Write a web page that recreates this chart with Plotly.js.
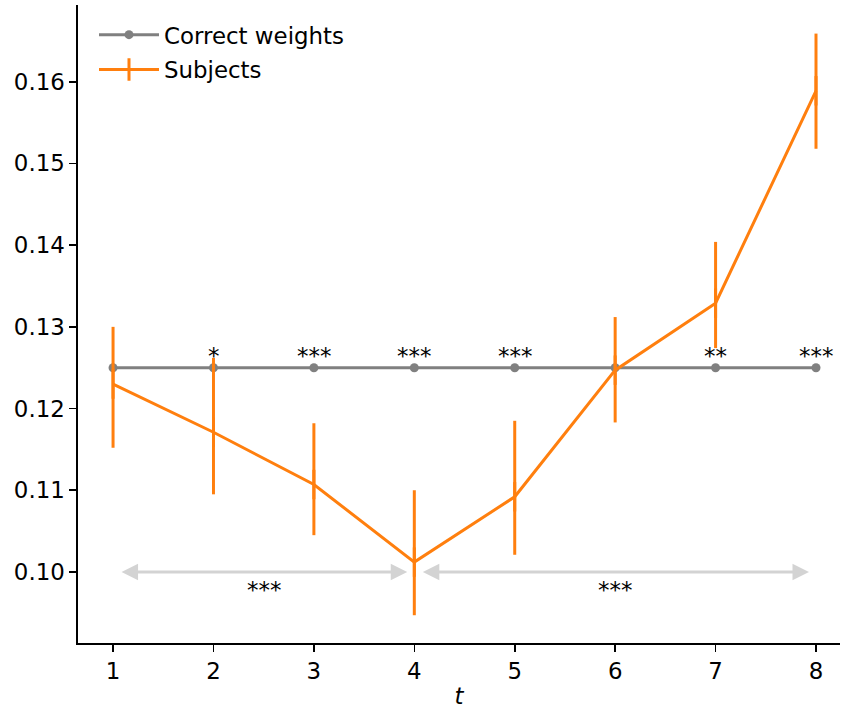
<!DOCTYPE html>
<html>
<head>
<meta charset="utf-8">
<script src="https://cdn.plot.ly/plotly-3.0.1.min.js"></script>
<style>html,body{margin:0;padding:0;background:#fff;}#chart{width:843px;height:709px;}</style>
</head>
<body>
<div id="chart"></div>
<script>
const t = [1, 2, 3, 4, 5, 6, 7, 8];
const correctWeights = [0.125, 0.125, 0.125, 0.125, 0.125, 0.125, 0.125, 0.125];
const subjects = [0.1230, 0.1171, 0.1107, 0.1012, 0.1092, 0.1247, 0.1329, 0.1589];
const subjUpper = [0.1300, 0.1262, 0.1182, 0.1100, 0.1185, 0.1312, 0.1404, 0.1659];
const subjLower = [0.1152, 0.1095, 0.1045, 0.0947, 0.1021, 0.1183, 0.1274, 0.1518];
const pointSig = ["", "*", "***", "***", "***", "", "**", "***"];
// comparison arrows between periods
const arrowFrom = [1.07, 4.07];
const arrowTo = [3.93, 7.93];
const arrowY = [0.100, 0.100];
const arrowLabels = ["***", "***"];
const arrowLabelX = [2.5, 6.0];

const FONT = "DejaVu Sans, sans-serif";
const FS = 22.9;

const traces = [
  {
    x: t, y: correctWeights, name: "Correct weights", type: "scatter", mode: "lines+markers",
    legendgroup: "a",
    line: {color: "#808080", width: 3}, marker: {color: "#808080", size: 9}
  },
  {
    x: t, y: subjects, name: "Subjects", type: "scatter", mode: "lines+markers",
    legendgroup: "b",
    line: {color: "#ff7f0e", width: 3},
    marker: {symbol: "line-ns", size: 21, color: "#ff7f0e", line: {width: 3, color: "#ff7f0e"}},
    error_y: {
      type: "data", symmetric: false,
      array: subjUpper.map((u, i) => u - subjects[i]),
      arrayminus: subjects.map((v, i) => v - subjLower[i]),
      color: "#ff7f0e", thickness: 3, width: 0
    }
  }
];

const annotations = [];
pointSig.forEach((s, i) => {
  if (!s) return;
  annotations.push({
    x: t[i], y: correctWeights[i], xref: "x", yref: "y", text: s, showarrow: false,
    yanchor: "bottom", yshift: -3, font: {family: FONT, size: FS, color: "#000"}
  });
});
arrowFrom.forEach((a, i) => {
  annotations.push({
    x: arrowTo[i], y: arrowY[i], ax: arrowFrom[i], ay: arrowY[i],
    xref: "x", yref: "y", axref: "x", ayref: "y", text: "",
    showarrow: true, arrowside: "end+start", arrowhead: 2, arrowsize: 1.1,
    arrowwidth: 3, arrowcolor: "#d3d3d3", standoff: 0, startstandoff: 0
  });
  annotations.push({
    x: arrowLabelX[i], y: arrowY[i], xref: "x", yref: "y", text: arrowLabels[i], showarrow: false,
    yanchor: "top", yshift: -3, font: {family: FONT, size: FS, color: "#000"}
  });
});

const layout = {
  width: 843, height: 709,
  margin: {l: 78, r: 3, t: 5, b: 66},
  paper_bgcolor: "#fff", plot_bgcolor: "#fff",
  font: {family: FONT, size: FS, color: "#000"},
  showlegend: true,
  legend: {x: 0.021, y: 0.987, xanchor: "left", yanchor: "top", bgcolor: "rgba(0,0,0,0)",
           font: {family: FONT, size: FS, color: "#000"}, tracegroupgap: 2, itemwidth: 60},
  xaxis: {
    range: [0.651, 8.239], tickvals: t, ticktext: t.map(String),
    showline: true, linecolor: "#000", linewidth: 1.6, mirror: false,
    ticks: "outside", ticklen: 7, tickwidth: 1.6, tickcolor: "#000",
    showgrid: false, zeroline: false,
    tickfont: {family: FONT, size: FS},
    title: {text: "<i>t</i>", font: {family: FONT, size: FS}, standoff: 12}
  },
  yaxis: {
    range: [0.0913, 0.1694], tickvals: [0.10, 0.11, 0.12, 0.13, 0.14, 0.15, 0.16],
    tickformat: ".2f",
    showline: true, linecolor: "#000", linewidth: 1.6, mirror: false,
    ticks: "outside", ticklen: 7, tickwidth: 1.6, tickcolor: "#000",
    showgrid: false, zeroline: false,
    tickfont: {family: FONT, size: FS}
  },
  annotations: annotations
};

Plotly.newPlot("chart", traces, layout, {displayModeBar: false, staticPlot: true});
</script>
</body>
</html>
